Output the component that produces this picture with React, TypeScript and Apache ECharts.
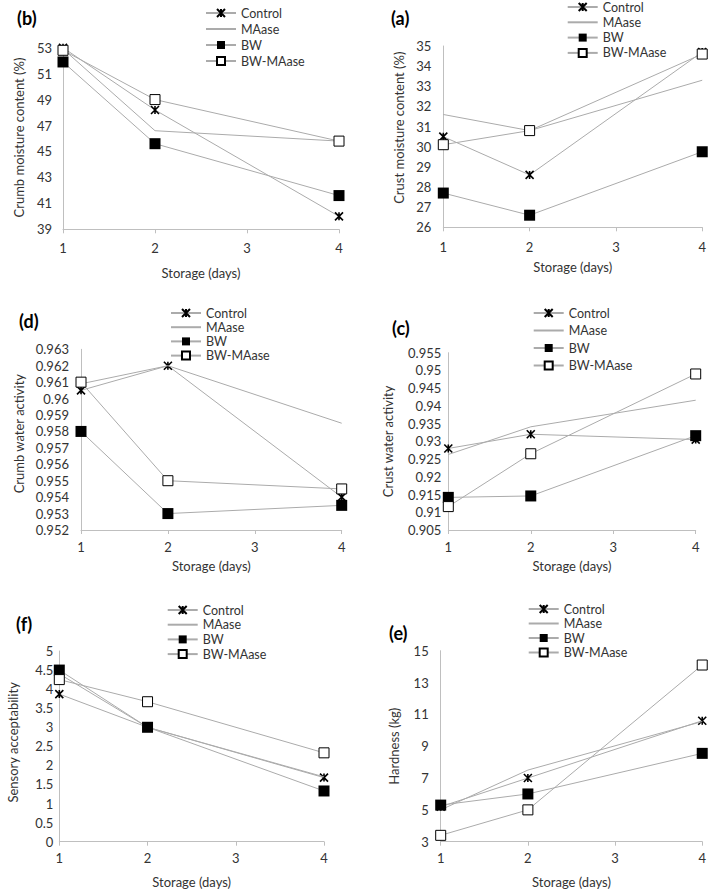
import React, { useEffect, useRef } from "react";
import * as echarts from "echarts";

const DAYS = [1, 2, 4];
const SERIES_NAMES = ["Control", "MAase", "BW", "BW-MAase"];

// (b) Crumb moisture content (%)
const crumbMoistControl = [53.0, 48.2, 40.0];
const crumbMoistMAase = [52.9, 46.6, 45.8];
const crumbMoistBW = [51.9, 45.6, 41.6];
const crumbMoistBWMAase = [52.8, 49.0, 45.8];

// (a) Crust moisture content (%)
const crustMoistControl = [30.5, 28.6, 34.7];
const crustMoistMAase = [31.6, 30.8, 33.3];
const crustMoistBW = [27.7, 26.6, 29.75];
const crustMoistBWMAase = [30.1, 30.8, 34.6];

// (d) Crumb water activity
const crumbAwControl = [0.9605, 0.962, 0.954];
const crumbAwMAase = [0.9609, 0.962, 0.9585];
const crumbAwBW = [0.958, 0.953, 0.9535];
const crumbAwBWMAase = [0.961, 0.955, 0.9545];

// (c) Crust water activity
const crustAwControl = [0.928, 0.932, 0.9305];
const crustAwMAase = [0.9263, 0.9341, 0.9416];
const crustAwBW = [0.9142, 0.9146, 0.9316];
const crustAwBWMAase = [0.9116, 0.9265, 0.949];

// (f) Sensory acceptability
const sensoryControl = [3.87, 3.0, 1.68];
const sensoryMAase = [4.4, 3.0, 1.7];
const sensoryBW = [4.5, 3.0, 1.33];
const sensoryBWMAase = [4.25, 3.67, 2.33];

// (e) Hardness (kg)
const hardnessControl = [5.2, 7.0, 10.6];
const hardnessMAase = [5.0, 7.5, 10.55];
const hardnessBW = [5.3, 6.0, 8.55];
const hardnessBWMAase = [3.4, 5.0, 14.1];

const FONT = "Lato";
const TEXT = "#333333";
const AXIS = "#bfbfbf";
const LINE = "#ababab";

const STAR = "path://M0,0L10,10M10,0L0,10M5,0L5,10";

type Panel = {
  label: string;
  yName: string;
  series: number[][];
  min: number;
  max: number;
  interval: number;
  grid: { left: number; top: number; width: number; height: number };
  yNameGap: number;
  yNameShift: number;
  yLabelMargin: number;
  xLabelMargin: number;
  xNameGap: number;
  legend: { left: number; top: number; gap: number };
  title: { left: number; top: number };
};

const panels: Panel[] = [
  {
    label: "(b)",
    yName: "Crumb moisture content (%)",
    series: [crumbMoistControl, crumbMoistMAase, crumbMoistBW, crumbMoistBWMAase],
    min: 39, max: 53, interval: 2,
    grid: { left: 63, top: 47.7, width: 276, height: 181.6 },
    yNameGap: 38, yNameShift: 2, yLabelMargin: 11, xLabelMargin: 12, xNameGap: 37,
    legend: { left: 205, top: 6, gap: 16 },
    title: { left: 17, top: 9 },
  },
  {
    label: "(a)",
    yName: "Crust moisture content (%)",
    series: [crustMoistControl, crustMoistMAase, crustMoistBW, crustMoistBWMAase],
    min: 26, max: 35, interval: 1,
    grid: { left: 443.3, top: 46, width: 260, height: 181.3 },
    yNameGap: 38, yNameShift: 18, yLabelMargin: 12, xLabelMargin: 13, xNameGap: 33,
    legend: { left: 566.7, top: 0, gap: 15.3 },
    title: { left: 391, top: 9 },
  },
  {
    label: "(d)",
    yName: "Crumb water activity",
    series: [crumbAwControl, crumbAwMAase, crumbAwBW, crumbAwBWMAase],
    min: 0.952, max: 0.963, interval: 0.001,
    grid: { left: 81, top: 349.3, width: 260.7, height: 180.7 },
    yNameGap: 56, yNameShift: 12, yLabelMargin: 12, xLabelMargin: 10, xNameGap: 29,
    legend: { left: 170, top: 306, gap: 14.2 },
    title: { left: 19, top: 312 },
  },
  {
    label: "(c)",
    yName: "Crust water activity",
    series: [crustAwControl, crustAwMAase, crustAwBW, crustAwBWMAase],
    min: 0.905, max: 0.955, interval: 0.005,
    grid: { left: 448.3, top: 352.7, width: 247.4, height: 177.3 },
    yNameGap: 54, yNameShift: 0, yLabelMargin: 7, xLabelMargin: 10, xNameGap: 29,
    legend: { left: 532.7, top: 306, gap: 17.5 },
    title: { left: 392, top: 319 },
  },
  {
    label: "(f)",
    yName: "Sensory acceptability",
    series: [sensoryControl, sensoryMAase, sensoryBW, sensoryBWMAase],
    min: 0, max: 5, interval: 0.5,
    grid: { left: 59.3, top: 651, width: 264.7, height: 190.7 },
    yNameGap: 40, yNameShift: 8, yLabelMargin: 6, xLabelMargin: 10, xNameGap: 34,
    legend: { left: 166.7, top: 603, gap: 14.7 },
    title: { left: 16, top: 615 },
  },
  {
    label: "(e)",
    yName: "Hardness (kg)",
    series: [hardnessControl, hardnessMAase, hardnessBW, hardnessBWMAase],
    min: 3, max: 15, interval: 2,
    grid: { left: 440.7, top: 650.7, width: 262.6, height: 191 },
    yNameGap: 40, yNameShift: 0, yLabelMargin: 12, xLabelMargin: 10, xNameGap: 34,
    legend: { left: 527.7, top: 602, gap: 14.5 },
    title: { left: 389, top: 624 },
  },
];

const fmt = (v: number) => String(parseFloat(Number(v).toFixed(4)));

function seriesStyle(k: number) {
  const line = { color: LINE, width: 1 };
  if (k === 0)
    return {
      symbol: STAR,
      symbolSize: 8,
      itemStyle: { color: "#000", borderColor: "#000", borderWidth: 1.6 },
      lineStyle: line,
    };
  if (k === 1) return { symbol: "none", lineStyle: line, itemStyle: { color: LINE } };
  if (k === 2)
    return {
      symbol: "rect",
      symbolSize: 11,
      itemStyle: { color: "#000", borderColor: "#000", borderWidth: 0 },
      lineStyle: line,
    };
  return {
    symbol: "rect",
    symbolSize: 10,
    itemStyle: { color: "#fff", borderColor: "#000", borderWidth: 1 },
    lineStyle: line,
  };
}

const legendData = SERIES_NAMES.map((n, k) =>
  k === 1 ? { name: n, itemStyle: { opacity: 0 } } : { name: n }
);

export default function App() {
  const ref = useRef<HTMLDivElement>(null);
  useEffect(() => {
    if (!ref.current) return;
    const chart = echarts.init(ref.current, undefined, { renderer: "svg" });
    const textStyle = { fontFamily: FONT, color: TEXT, fontSize: 13 };

    const option: any = {
      animation: false,
      backgroundColor: "#fff",
      textStyle: { fontFamily: FONT },
      title: panels.map((p) => ({
        text: p.label,
        left: p.title.left,
        top: p.title.top,
        padding: 0,
        textStyle: { fontFamily: FONT, fontSize: 18, fontWeight: "bold", color: "#000" },
      })),
      legend: panels.map((p) => ({
        orient: "vertical",
        left: p.legend.left,
        top: p.legend.top,
        padding: 0,
        itemWidth: 30,
        itemHeight: 10,
        itemGap: p.legend.gap - 14,
        selectedMode: false,
        data: legendData,
        textStyle: { fontFamily: FONT, fontSize: 12.5, color: TEXT, lineHeight: 14, padding: 0 },
      })),
      grid: panels.map((p) => ({ ...p.grid })),
      xAxis: panels.map((p, i) => ({
        gridIndex: i,
        type: "value",
        min: 1,
        max: 4,
        interval: 1,
        name: "Storage (days)",
        nameLocation: "middle",
        nameGap: p.xNameGap,
        nameTextStyle: textStyle,
        axisLine: { show: true, lineStyle: { color: AXIS, width: 1 } },
        axisTick: { show: true, length: 4, lineStyle: { color: AXIS } },
        splitLine: { show: false },
        axisLabel: { ...textStyle, margin: p.xLabelMargin },
      })),
      yAxis: panels.map((p, i) => ({
        gridIndex: i,
        type: "value",
        min: p.min,
        max: p.max,
        interval: p.interval,
        name: p.yName,
        nameLocation: "middle",
        nameGap: p.yNameGap,
        nameTextStyle: { ...textStyle, padding: [0, 0, 0, p.yNameShift] },
        axisLine: { show: true, lineStyle: { color: AXIS, width: 1 } },
        axisTick: { show: false },
        splitLine: { show: false },
        axisLabel: { ...textStyle, margin: p.yLabelMargin, formatter: fmt },
      })),
      series: panels.flatMap((p, i) =>
        p.series.map((vals, k) => ({
          type: "line",
          name: SERIES_NAMES[k],
          xAxisIndex: i,
          yAxisIndex: i,
          data: DAYS.map((d, j) => [d, vals[j]]),
          z: 2 + k,
          ...seriesStyle(k),
        }))
      ),
    };
    chart.setOption(option);
    return () => chart.dispose();
  }, []);
  return (
    <div
      ref={ref}
      style={{ position: "absolute", left: 0, top: 0, width: 709, height: 892 }}
    />
  );
}
